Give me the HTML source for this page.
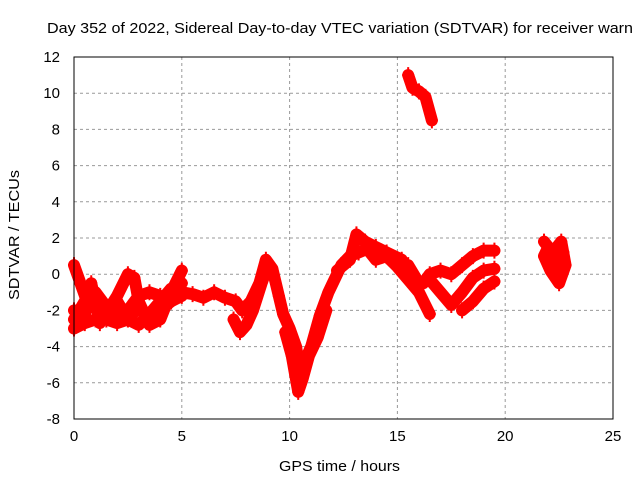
<!DOCTYPE html>
<html><head><meta charset="utf-8"><style>
body{margin:0;background:#fff}
svg{display:block;font-family:"Liberation Sans",sans-serif}
</style></head><body>
<svg id="chart" width="640" height="480" viewBox="0 0 640 480" xmlns="http://www.w3.org/2000/svg">
<rect width="640" height="480" fill="#fff"/>
<text x="47" y="33" font-size="15" textLength="586" lengthAdjust="spacingAndGlyphs">Day 352 of 2022, Sidereal Day-to-day VTEC variation (SDTVAR) for receiver warn</text>
<text x="279" y="471" font-size="15" textLength="121" lengthAdjust="spacingAndGlyphs">GPS time / hours</text>
<text transform="translate(19,300) rotate(-90)" font-size="15" textLength="130" lengthAdjust="spacingAndGlyphs">SDTVAR / TECUs</text>
<g id="grid"></g><g id="ticks"></g><g id="marks"></g>
<rect x="74" y="57" width="539" height="362" fill="none" stroke="#000" stroke-width="1"/>
</svg>
<script>
const xTicks=[0,5,10,15,20,25];
const yTicks=[-8,-6,-4,-2,0,2,4,6,8,10,12];
const trackA_t=[0,0.3,0.6,1,1.5,2,2.5,3,3.5,4,4.5,5];
const trackA_v=[0.5,-0.5,-1.5,-1,-1.8,-2.5,-2,-1.2,-1.0,-1.2,-1.5,-1.2];
const trackB_t=[0,0.5,1,1.5,2,2.5,3,3.5,4,4.5,5];
const trackB_v=[-2.5,-1.5,-1.2,-2.5,-2.7,-2.5,-2.8,-2.2,-1.5,-0.8,-0.5];
const trackC_t=[0,0.5,1,1.5,2,2.5,3,3.5,4,4.5];
const trackC_v=[-3,-2.7,-2.5,-2.0,-1.5,-2.5,-1.8,-2.6,-2.0,-1.5];
const trackD_t=[0,0.5,0.8,1.2,2,2.5,2.8,3,3.5,4,4.5,5];
const trackD_v=[-2,-2.3,-0.5,-2.7,-1.2,0,-0.2,-1.5,-2.8,-2.5,-1.0,0.2];
const main_t=[5,5.5,6,6.5,7,7.5,7.8,8.2,8.6,8.9,9.2,9.5,9.7,10,10.3,10.5,10.7,11,11.4,11.8,12,12.4,12.8,13.2,13.6,14,14.5,15,15.5,16,16.5];
const main_v=[-1.0,-1.1,-1.3,-1.0,-1.3,-1.5,-2.0,-1.5,-0.5,0.8,0.3,-1.2,-2.2,-3.0,-4.0,-5.5,-4.8,-4,-2.3,-1.0,-0.5,0.5,1,1.2,1.4,0.8,1.0,0.4,-0.3,-1.0,-2.2];
const branch1_t=[7.4,7.7,8,8.3,8.7,9.0];
const branch1_v=[-2.5,-3.2,-2.8,-2.0,-0.5,0.5];
const branch2_t=[9.8,10.1,10.4,10.6,10.9,11.3,11.7];
const branch2_v=[-3.2,-4.5,-6.5,-5.8,-4.5,-3.5,-2.0];
const branch3_t=[12.2,12.8,13.1,13.5,14,14.5,15.2];
const branch3_v=[0.2,0.8,2.2,1.8,1.5,1.2,0.8];
const trackE_t=[15.5,16,16.5,17,17.5,18,18.5,19,19.5];
const trackE_v=[0.5,-0.5,-0.3,-1.0,-1.7,-1.0,-0.2,0.2,0.3];
const trackF_t=[16.2,16.5,17,17.5,18,18.5,19,19.5];
const trackF_v=[-0.5,0,0.2,0,0.5,1,1.3,1.3];
const trackG_t=[18,18.5,19,19.5];
const trackG_v=[-2,-1.5,-0.8,-0.4];
const high_t=[15.5,15.7,16,16.3,16.6];
const high_v=[11,10.3,10.1,9.8,8.5];
const blob_t=[21.8,22.2,22.6,22.8,22.5,22.1,21.8,22.0,22.4,22.7];
const blob_v=[1.8,1.2,1.8,0.5,-0.5,0.2,1.0,1.5,0.5,1.2];
const tracks=[[trackA_t,trackA_v],[trackB_t,trackB_v],[trackC_t,trackC_v],[trackD_t,trackD_v],[main_t,main_v],[branch1_t,branch1_v],[branch2_t,branch2_v],[branch3_t,branch3_v],[trackE_t,trackE_v],[trackF_t,trackF_v],[trackG_t,trackG_v],[high_t,high_v],[blob_t,blob_v]];
const X0=74,X1=613,Y0=419,Y1=57;
const sx=t=>X0+(t-0)/25*(X1-X0);
const sy=v=>Y0-(v+8)/20*(Y0-Y1);
const NS="http://www.w3.org/2000/svg";
const grid=document.getElementById('grid'),ticks=document.getElementById('ticks'),marks=document.getElementById('marks');
function mk(tag,a,p){const e=document.createElementNS(NS,tag);for(const k in a)e.setAttribute(k,a[k]);p.appendChild(e);return e;}
xTicks.forEach(t=>{const x=sx(t);
 if(t>0&&t<25){const g=mk('line',{x1:x,x2:x,y1:Y1,y2:Y0,stroke:'#999','stroke-dasharray':'3,3'},grid);
 
 }
 const l=mk('text',{x:x,y:Y0+22,'font-size':15,'text-anchor':'middle'},ticks);l.textContent=t;
 
 });
yTicks.forEach(v=>{const y=sy(v);
 if(v>-8&&v<12){const g=mk('line',{x1:X0,x2:X1,y1:y,y2:y,stroke:'#999','stroke-dasharray':'3,3'},grid);
 
 }
 const l=mk('text',{x:X0-14,y:y+5,'font-size':15,'text-anchor':'end'},ticks);l.textContent=v;
 
 });
tracks.forEach(([ts,vs])=>{
 const pts=ts.map((t,i)=>sx(t)+','+sy(vs[i])).join(' ');
 const pl=mk('polyline',{points:pts,fill:'none',stroke:'#f00','stroke-width':12,'stroke-linejoin':'round','stroke-linecap':'round'},marks);
 
 
 ts.forEach((t,i)=>{const x=sx(t),y=sy(vs[i]);
  const p=mk('path',{d:`M${x-6},${y}H${x+6}M${x},${y-8}V${y+8}`,stroke:'#f00','stroke-width':2},marks);
  
  });
});
</script>
</body></html>
